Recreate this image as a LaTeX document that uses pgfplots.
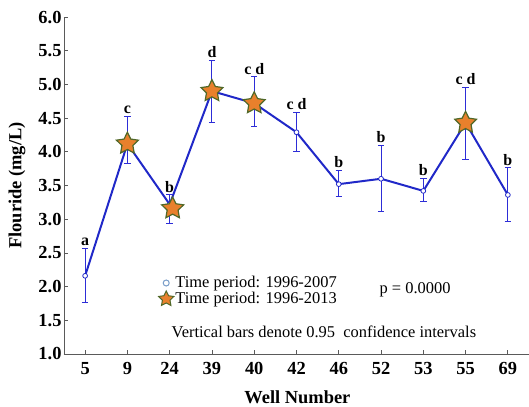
\documentclass[border=0pt]{standalone}
\usepackage{pgfplots}
\usepackage{pgfplotstable}
\pgfplotsset{compat=1.18}
\usepackage{fontspec}
\setmainfont{Liberation Serif}

\definecolor{lineblue}{RGB}{32,40,200}
\definecolor{barblue}{RGB}{45,45,215}
\definecolor{starfill}{RGB}{232,128,44}
\definecolor{staredge}{RGB}{80,104,40}
\definecolor{circleedge}{RGB}{120,156,200}
\definecolor{axisgray}{RGB}{90,90,90}

% filled five-pointed star
\pgfdeclareplotmark{fivestar}{%
  \pgfpathmoveto{\pgfpointpolar{90}{\pgfplotmarksize}}%
  \pgfpathlineto{\pgfpointpolar{126}{0.5\pgfplotmarksize}}%
  \pgfpathlineto{\pgfpointpolar{162}{\pgfplotmarksize}}%
  \pgfpathlineto{\pgfpointpolar{198}{0.5\pgfplotmarksize}}%
  \pgfpathlineto{\pgfpointpolar{234}{\pgfplotmarksize}}%
  \pgfpathlineto{\pgfpointpolar{270}{0.5\pgfplotmarksize}}%
  \pgfpathlineto{\pgfpointpolar{306}{\pgfplotmarksize}}%
  \pgfpathlineto{\pgfpointpolar{342}{0.5\pgfplotmarksize}}%
  \pgfpathlineto{\pgfpointpolar{18}{\pgfplotmarksize}}%
  \pgfpathlineto{\pgfpointpolar{54}{0.5\pgfplotmarksize}}%
  \pgfpathclose
  \pgfusepathqfillstroke}

% horizontal cap for the confidence bars
\pgfdeclareplotmark{cap}{%
  \pgfpathmoveto{\pgfqpoint{-\pgfplotmarksize}{0pt}}%
  \pgfpathlineto{\pgfqpoint{\pgfplotmarksize}{0pt}}%
  \pgfusepathqstroke}

% mean fluoride per well with 0.95 confidence limits
\pgfplotstableread{
x  y    hi   lo   lab
0  2.16 2.57 1.76 a
1  4.12 4.53 3.82 c
2  3.22 3.36 2.93 b
3  4.90 5.36 4.43 d
4  4.72 5.11 4.37 c~d
5  4.29 4.59 4.01 c~d
6  3.52 3.73 3.33 b
7  3.60 4.09 3.11 b
8  3.42 3.60 3.27 b
9  4.43 4.95 3.89 c~d
10 3.36 3.76 2.96 b
}\welldata

% wells sampled in the 1996-2013 period
\pgfplotstableread{
x    y
1    4.12
2.07 3.16
3    4.90
4    4.72
9    4.43
}\recentdata

\begin{document}
\begin{tikzpicture}
\begin{axis}[
  at={(0,0)}, anchor=south west,
  scale only axis,
  width=465bp, height=337bp,
  xmin=-0.5, xmax=10.5,
  ymin=1, ymax=6,
  axis x line*=bottom,
  axis y line*=left,
  axis line style={draw=axisgray, line width=1pt},
  tick align=inside,
  major tick length=4bp,
  tick style={draw=axisgray, line width=0.8pt},
  xtick={0,...,10},
  xticklabels={5,9,24,39,40,42,46,52,53,55,69},
  ytick={1,1.5,...,6},
  /pgf/number format/assume math mode=true,
  yticklabel style={/pgf/number format/fixed, /pgf/number format/fixed zerofill, /pgf/number format/precision=1, xshift=1bp},
  ticklabel style={font=\bfseries\fontsize{18.5}{20}\selectfont},
  xticklabel style={yshift=-5bp},
  xlabel={Well Number},
  ylabel={Flouride (mg/L)},
  every axis x label/.style={at={(axis description cs:0.502,-0.128)}, anchor=center, font=\bfseries\fontsize{18.5}{20}\selectfont},
  every axis y label/.style={at={(axis description cs:-0.101,0.5)}, anchor=center, rotate=90, font=\bfseries\fontsize{18.5}{20}\selectfont},
  clip=false,
  unbounded coords=jump,
  legend style={at={(axis description cs:0.203,0.187)}, anchor=west, draw=none, fill=none,
    inner sep=0pt, row sep=0pt, font=\fontsize{16.5}{18}\selectfont,
    nodes={inner sep=1.5bp}},
  legend cell align=left,
]
% confidence bars: lower limit to upper limit for each well
\addplot[forget plot, draw=barblue, line width=1pt, mark=none] coordinates {
  (0,1.76) (0,2.57) (nan,nan)
  (1,3.82) (1,4.53) (nan,nan)
  (2,2.93) (2,3.36) (nan,nan)
  (3,4.43) (3,5.36) (nan,nan)
  (4,4.37) (4,5.11) (nan,nan)
  (5,4.01) (5,4.59) (nan,nan)
  (6,3.33) (6,3.73) (nan,nan)
  (7,3.11) (7,4.09) (nan,nan)
  (8,3.27) (8,3.60) (nan,nan)
  (9,3.89) (9,4.95) (nan,nan)
  (10,2.96) (10,3.76)
};
% caps at both limits
\addplot[forget plot, only marks, mark=cap, mark size=3.2bp,
  mark options={draw=barblue, line width=1pt}]
  table[x=x, y=hi] {\welldata};
\addplot[forget plot, only marks, mark=cap, mark size=3.2bp,
  mark options={draw=barblue, line width=1pt}]
  table[x=x, y=lo] {\welldata};
% connecting line and means
\addplot[forget plot, draw=lineblue, line width=2pt, mark=*, mark size=2.4bp,
  mark options={fill=white, draw=lineblue, line width=0.8pt}]
  table[x=x, y=y] {\welldata};
% group letters above the upper limits
\addplot[forget plot, draw=none, mark=none, nodes near coords, point meta=explicit symbolic,
  nodes near coords style={anchor=south, yshift=1bp, inner sep=1.5bp, text=black, font=\bfseries\fontsize{16}{17}\selectfont}]
  table[x=x, y=hi, meta=lab] {\welldata};
% stars for the later period
\addplot[forget plot, only marks, mark=fivestar, mark size=11.5bp,
  mark options={fill=starfill, draw=staredge, line width=1.2pt}]
  table[x=x, y=y] {\recentdata};

\addlegendimage{only marks, mark=o, mark size=3bp, mark options={draw=circleedge, line width=1pt}}
\addlegendentry{Time period: 1996-2007}
\addlegendimage{only marks, mark=fivestar, mark size=8bp, mark options={fill=starfill, draw=staredge, line width=1pt}}
\addlegendentry{Time period: 1996-2013}

\node[anchor=base, font=\fontsize{16.5}{18}\selectfont] at (axis description cs:0.755,0.181) {p = 0.0000};
\node[anchor=base, font=\fontsize{16.5}{18}\selectfont] at (axis description cs:0.559,0.05) {Vertical bars denote 0.95\ \ confidence intervals};
\end{axis}
\pgfresetboundingbox
\useasboundingbox (-64bp,-53bp) rectangle (465bp,354bp);
\end{tikzpicture}
\end{document}
